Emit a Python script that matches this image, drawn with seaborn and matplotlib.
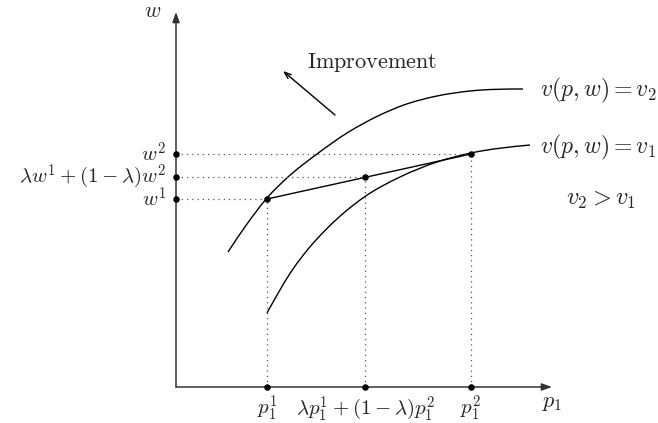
import numpy as np
import pandas as pd
import seaborn as sns
import matplotlib.pyplot as plt
from matplotlib.path import Path
from matplotlib.patches import PathPatch

sns.set_theme(style='white')
plt.rcParams['mathtext.fontset'] = 'cm'
plt.rcParams['font.family'] = ['DejaVu Serif']

# Points of the two bundles and their convex combination (p1, w)
p_vals = [0.91, 1.89, 2.95]
w_vals = [1.88, 2.10, 2.33]
p_labels = [r'$p_1^1$', r'$\lambda p_1^1 + (1-\lambda)p_1^2$', r'$p_1^2$']
w_labels = [r'$w^1$', r'$\lambda w^1 + (1-\lambda)w^2$', r'$w^2$']

# Level set v(p,w) = v2 (upper curve)
v2_p = [0.52, 0.71, 0.91, 1.12, 1.41, 1.71, 2.04, 2.27, 2.61, 2.94, 3.47]
v2_w = [1.35, 1.63, 1.89, 2.10, 2.33, 2.54, 2.72, 2.817, 2.91, 2.96, 2.98]

# Level set v(p,w) = v1 (lower curve)
v1_p = [0.91, 1.17, 1.33, 1.51, 1.89, 2.24, 2.61, 2.95, 3.54]
v1_w = [0.74, 1.18, 1.39, 1.585, 1.905, 2.10, 2.25, 2.34, 2.42]


def smooth_path(xs, ys):
    # cubic Hermite through the read points, drawn as Bezier segments
    x = np.asarray(xs, float)
    y = np.asarray(ys, float)
    h = np.diff(x)
    d = np.diff(y) / h
    m = np.empty_like(x)
    m[1:-1] = (h[1:] * d[:-1] + h[:-1] * d[1:]) / (h[:-1] + h[1:])
    m[0] = 1.5 * d[0] - 0.5 * m[1]
    m[-1] = 1.5 * d[-1] - 0.5 * m[-2]
    verts = [(x[0], y[0])]
    codes = [Path.MOVETO]
    for i in range(len(h)):
        verts += [(x[i] + h[i] / 3, y[i] + m[i] * h[i] / 3),
                  (x[i + 1] - h[i] / 3, y[i + 1] - m[i + 1] * h[i] / 3),
                  (x[i + 1], y[i + 1])]
        codes += [Path.CURVE4] * 3
    return Path(verts, codes)


fig = plt.figure(figsize=(6.58, 4.23), dpi=100)
ax = fig.add_axes([0, 0, 1, 1])
ax.set_xlim(-1.76, 4.82)
ax.set_ylim(-0.36, 3.87)
ax.axis('off')

FS = 16

# axes with arrows
axis_kw = dict(arrowstyle='-|>,head_length=0.5,head_width=0.18', color='#333333', lw=1.1,
               shrinkA=0, shrinkB=0)
ax.annotate('', xy=(3.76, 0), xytext=(0, 0), arrowprops=axis_kw)
ax.annotate('', xy=(0, 3.75), xytext=(0, 0), arrowprops=axis_kw)
ax.text(-0.23, 3.76, r'$w$', fontsize=FS, ha='center', va='center')
ax.text(3.76, -0.15, r'$p_1$', fontsize=FS, ha='center', va='center')

# curves
for xs, ys in [(v2_p, v2_w), (v1_p, v1_w)]:
    ax.add_patch(PathPatch(smooth_path(xs, ys), facecolor='none', edgecolor='black', lw=1.0))

# chord between the two bundles
sns.lineplot(x=[p_vals[0], p_vals[2]], y=[w_vals[0], w_vals[2]], sort=False,
             estimator=None, color='black', lw=1.0, ax=ax)

# dotted guides
for p, w in zip(p_vals, w_vals):
    ax.plot([0, p], [w, w], linestyle=(0, (1, 3.2)), color='#555555', lw=0.9)
    ax.plot([p, p], [0, w], linestyle=(0, (1, 3.2)), color='#555555', lw=0.9)

# dots
pts = pd.DataFrame({'p': p_vals + p_vals + [0] * 3,
                    'w': w_vals + [0] * 3 + w_vals})
sns.scatterplot(data=pts, x='p', y='w', color='black', s=22, edgecolor='black',
                linewidth=0, zorder=5, ax=ax)

# tick labels
for p, lab in zip(p_vals, p_labels):
    ax.text(p, -0.07, lab, fontsize=15, ha='center', va='top')
for w, lab in zip(w_vals, w_labels):
    ax.text(-0.10, w, lab, fontsize=15, ha='right', va='center')

# curve labels
ax.text(3.64, 2.97, r'$v(p,w) = v_2$', fontsize=17, ha='left', va='center')
ax.text(3.64, 2.40, r'$v(p,w) = v_1$', fontsize=17, ha='left', va='center')
ax.text(4.25, 1.88, r'$v_2 > v_1$', fontsize=17.5, ha='center', va='center')

# improvement arrow
ax.annotate('', xy=(1.07, 3.16), xytext=(1.59, 2.72),
            arrowprops=dict(arrowstyle='->,head_length=0.4,head_width=0.15', color='black',
                            lw=1.0, shrinkA=0, shrinkB=0))
ax.text(1.96, 3.25, r'$\mathrm{Improvement}$', fontsize=FS, ha='center', va='center')

fig.savefig('out.png', dpi=100)
